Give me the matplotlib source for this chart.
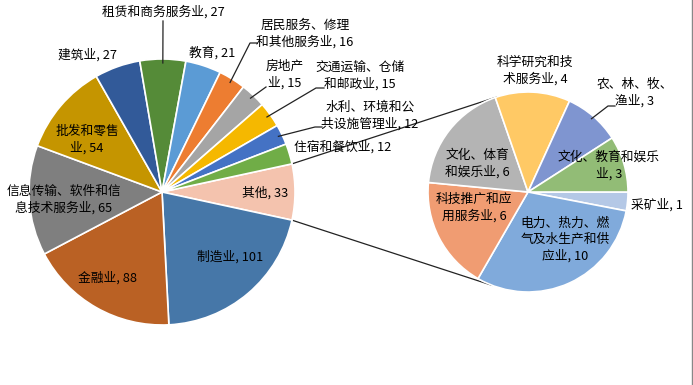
import numpy as np
import matplotlib
matplotlib.use('Agg')
import matplotlib.pyplot as plt

plt.rcParams['font.family'] = ['Noto Sans CJK SC', 'DejaVu Sans']

# main pie, clockwise starting with the "其他" slice
main_names = ["其他", "制造业", "金融业", "信息传输、软件和信息技术服务业", "批发和零售业",
              "建筑业", "租赁和商务服务业", "教育", "居民服务、修理和其他服务业", "房地产业",
              "交通运输、仓储和邮政业", "水利、环境和公共设施管理业", "住宿和餐饮业"]
main_values = [33, 101, 88, 65, 54, 27, 27, 21, 16, 15, 15, 12, 12]

# second pie (breakdown of 其他), clockwise from 3 o'clock
sub_names = ["采矿业", "电力、热力、燃气及水生产和供应业", "科技推广和应用服务业", "文化、体育和娱乐业",
             "科学研究和技术服务业", "农、林、牧、渔业", "文化、教育和娱乐业"]
sub_values = [1, 10, 6, 6, 4, 3, 3]

main_colors = ["#F4C3AE", "#4677A8", "#BA6124", "#7F7F7F", "#C59500", "#325A99", "#558B38",
               "#5B9BD5", "#ED7D31", "#A5A5A5", "#F5B800", "#4472C4", "#70AD47"]
sub_colors = ["#B4C8E6", "#80AADB", "#F09C72", "#B4B4B4", "#FFC965", "#7F95D0", "#92BC76"]

# label layout (pixel coords, chars per line, leader line start or None)
main_wrap = [0, 0, 0, 9, 5, 0, 0, 0, 7, 3, 7, 7, 0]
main_pos = [(265, 193), (230, 257), (107, 278), (64, 200), (87, 140), (88, 55), (163, 12),
            (212, 53), (305, 34), (285, 75), (360, 76), (370, 116), (343, 147)]
main_lead = {6: [(163, 21)], 8: [(257, 43), (250, 43)], 9: [(266, 87)],
             10: [(324, 88), (316, 88)], 11: [(322, 127), (315, 127)]}
sub_wrap = [0, 7, 6, 5, 6, 6, 8]
sub_pos = [(657, 205), (565, 240), (474, 208), (477, 164), (535, 71), (635, 93), (609, 166)]
sub_lead = {5: [(615, 106), (608, 106)]}

W, H = 693, 385
c1, r1 = (162, H - 192), 133
c2, r2 = (528, H - 192), 100


def label(name, v, w):
    if w:
        lines = [name[i:i + w] for i in range(0, len(name), w)]
    else:
        lines = [name]
    lines[-1] += f", {v}"
    return "\n".join(lines)


fig = plt.figure(figsize=(W / 100, H / 100), dpi=100)
ax = fig.add_axes([0, 0, 1, 1])

wp = dict(edgecolor="white", linewidth=1.2)
half = 360 * main_values[0] / sum(main_values) / 2
w1, _ = ax.pie(main_values, colors=main_colors, radius=r1, center=c1,
               startangle=half, counterclock=False, wedgeprops=wp)
w2, _ = ax.pie(sub_values, colors=sub_colors, radius=r2, center=c2,
               startangle=0, counterclock=False, wedgeprops=wp)


def edge_pt(c, r, a):
    return c[0] + r * np.cos(np.radians(a)), c[1] + r * np.sin(np.radians(a))


# connector lines between the two pies
for a_main, a_sub in [(half, 108), (-half, -111)]:
    p = edge_pt(c1, r1, a_main)
    q = edge_pt(c2, r2, a_sub)
    ax.plot([p[0], q[0]], [p[1], q[1]], color="#222222", lw=0.9, zorder=0)

for wedges, names, vals, wraps, pos, leads, c, r in [
        (w1, main_names, main_values, main_wrap, main_pos, main_lead, c1, r1),
        (w2, sub_names, sub_values, sub_wrap, sub_pos, sub_lead, c2, r2)]:
    for i, (nm, v) in enumerate(zip(names, vals)):
        x, y = pos[i]
        ax.text(x, H - y, label(nm, v, wraps[i]), ha="center", va="center",
                fontsize=9.2, color="black", linespacing=1.32)
        if i in leads:
            wd = wedges[i]
            mid = (wd.theta1 + wd.theta2) / 2
            end = edge_pt(c, r * 0.97, mid)
            pts = [(px, H - py) for px, py in leads[i]] + [end]
            xs, ys = zip(*pts)
            ax.plot(xs, ys, color="#222222", lw=0.9)

ax.plot([692, 692], [0, H], color="#888888", lw=1.0)

ax.set_xlim(0, W)
ax.set_ylim(0, H)
ax.set_aspect("equal")
ax.axis("off")
fig.savefig("out.png", dpi=100)
